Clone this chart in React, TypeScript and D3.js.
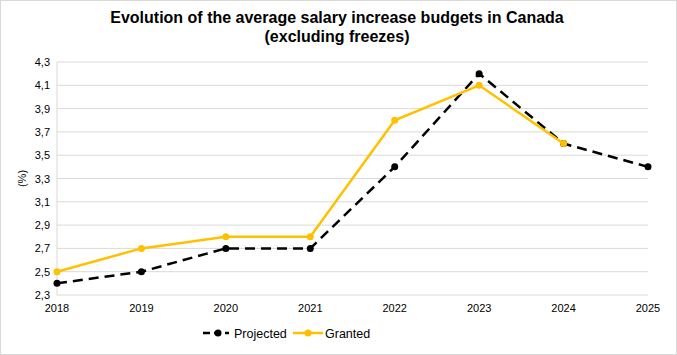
import React from "react";
import * as d3 from "d3";

const years = ["2018", "2019", "2020", "2021", "2022", "2023", "2024", "2025"];
const projected = [2.4, 2.5, 2.7, 2.7, 3.4, 4.2, 3.6, 3.4];
const granted = [2.5, 2.7, 2.8, 2.8, 3.8, 4.1, 3.6];
const yTicks = [2.3, 2.5, 2.7, 2.9, 3.1, 3.3, 3.5, 3.7, 3.9, 4.1, 4.3];

const W = 677, H = 355;
const M = { left: 57, right: 648, top: 62, bottom: 295 };
const FONT = "'Liberation Sans', Arial, sans-serif";

export default function App() {
  const x = d3.scalePoint<string>().domain(years).range([M.left, M.right]);
  const y = d3.scaleLinear().domain([2.3, 4.3]).range([M.bottom, M.top]);
  const line = d3
    .line<number>()
    .x((_, i) => x(years[i])!)
    .y((d) => y(d));
  const fmt = (v: number) => v.toFixed(1).replace(".", ",");
  const gold = "#FFC000";

  return (
    <svg width={W} height={H} style={{ position: "absolute", left: 0, top: 0 }} fontFamily={FONT}>
      <rect x={0.5} y={0.5} width={W - 1} height={H - 1} fill="#fff" stroke="#d9d9d9" />
      <text x={337} y={23} textAnchor="middle" fontSize={16} fontWeight="bold" fill="#000">
        Evolution of the average salary increase budgets in Canada
      </text>
      <text x={337} y={42} textAnchor="middle" fontSize={16} fontWeight="bold" fill="#000">
        (excluding freezes)
      </text>
      {yTicks.map((t) => (
        <g key={t}>
          <line x1={M.left} x2={M.right} y1={y(t)} y2={y(t)} stroke="#d9d9d9" strokeWidth={1} />
          <text x={M.left - 7} y={y(t) + 4} textAnchor="end" fontSize={11} fill="#000">
            {fmt(t)}
          </text>
        </g>
      ))}
      <line x1={M.left} x2={M.left} y1={M.top} y2={M.bottom} stroke="#d9d9d9" />
      {years.map((yr) => (
        <text key={yr} x={x(yr)} y={M.bottom + 17} textAnchor="middle" fontSize={11} fill="#000">
          {yr}
        </text>
      ))}
      <text
        transform={`translate(26,${(M.top + M.bottom) / 2}) rotate(-90)`}
        textAnchor="middle"
        fontSize={11}
        fill="#000"
      >
        (%)
      </text>
      <path d={line(projected)!} fill="none" stroke="#000" strokeWidth={2.5} strokeDasharray="10,6" />
      {projected.map((v, i) => (
        <circle key={"p" + i} cx={x(years[i])} cy={y(v)} r={3.5} fill="#000" />
      ))}
      <path d={line(granted)!} fill="none" stroke={gold} strokeWidth={2.5} />
      {granted.map((v, i) => (
        <circle key={"g" + i} cx={x(years[i])} cy={y(v)} r={3.5} fill={gold} />
      ))}
      <g>
        <line x1={203} x2={229} y1={333} y2={333} stroke="#000" strokeWidth={2.5} strokeDasharray="7,4" />
        <circle cx={218} cy={333} r={3.5} fill="#000" />
        <text x={234} y={337.5} fontSize={12.5} fill="#000">Projected</text>
        <line x1={293} x2={323} y1={333} y2={333} stroke={gold} strokeWidth={2.5} />
        <circle cx={308} cy={333} r={3.5} fill={gold} />
        <text x={325} y={337.5} fontSize={12.5} fill="#000">Granted</text>
      </g>
    </svg>
  );
}
